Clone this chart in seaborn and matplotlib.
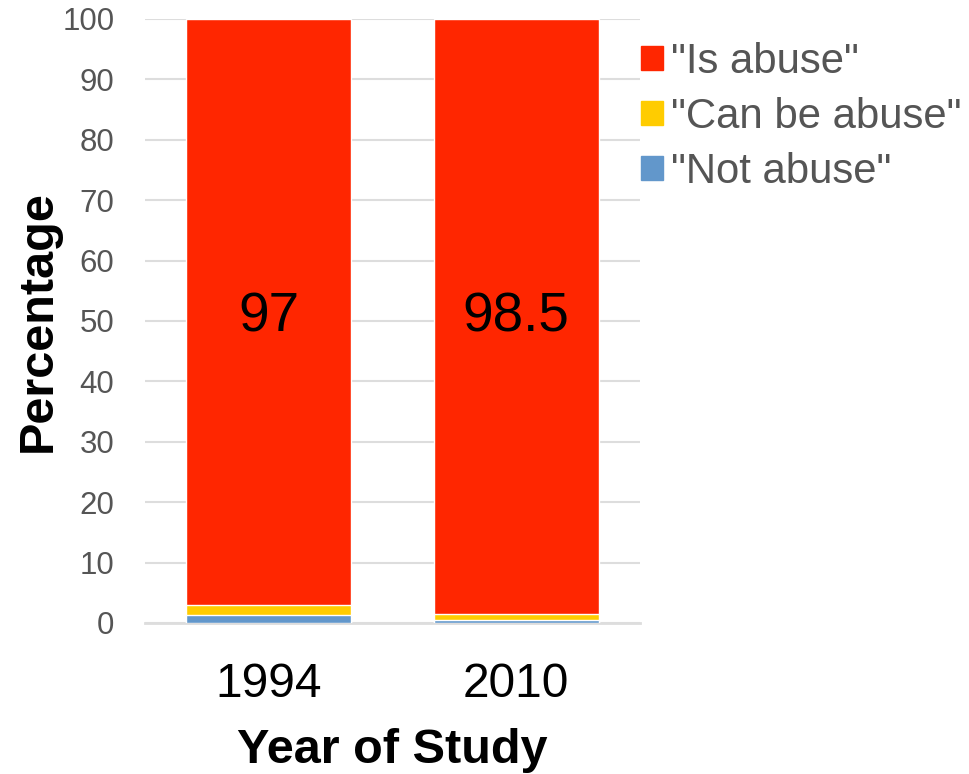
import matplotlib
matplotlib.use("Agg")
import matplotlib.pyplot as plt
import seaborn as sns
import pandas as pd
from matplotlib.patches import Patch

years = ["1994", "2010"]
not_abuse = [1.3, 0.5]
can_be_abuse = [1.7, 1.0]
is_abuse = [97.0, 98.5]
labels = ['"Is abuse"', '"Can be abuse"', '"Not abuse"']
colors = {"is": "#FF2600", "can": "#FFCC00", "not": "#6297CB"}

sns.set_theme(style="white")
plt.rcParams['font.family'] = ['Liberation Sans', 'DejaVu Sans']

df = pd.DataFrame({"year": years, "not": not_abuse, "can": can_be_abuse, "is": is_abuse})
df["c2"] = df["not"] + df["can"]
df["c3"] = df["c2"] + df["is"]

fig = plt.figure(figsize=(9.69, 7.74), dpi=100)
ax = fig.add_axes([145/969, 1 - 623/774, (640-145)/969, (623-19)/774])

w = 0.665
sns.barplot(data=df, x="year", y="c3", color=colors["is"], width=w, ax=ax, saturation=1, zorder=2)
sns.barplot(data=df, x="year", y="c2", color=colors["can"], width=w, ax=ax, saturation=1, zorder=3)
sns.barplot(data=df, x="year", y="not", color=colors["not"], width=w, ax=ax, saturation=1, zorder=4)

for i, v in enumerate(df["is"]):
    ax.text(i, 50.5, f"{v:g}", ha="center", va="center", fontsize=39.5, color="black", zorder=5)

ax.set_ylim(0, 100)
ax.set_xlim(-0.5, 1.5)
ax.set_yticks(range(0, 101, 10))
ax.yaxis.grid(True, color="#DDDDDD", linewidth=1.5, zorder=0)
ax.set_axisbelow(True)
for s in ["top", "right", "left"]:
    ax.spines[s].set_visible(False)
ax.spines["bottom"].set_color("#DDDDDD")
ax.spines["bottom"].set_linewidth(2)
ax.tick_params(axis="y", labelsize=22.5, labelcolor="#555555", length=0, pad=22)
ax.tick_params(axis="x", labelsize=34.5, labelcolor="black", length=0, pad=28)
ax.set_xlabel("Year of Study", fontsize=35, fontweight="bold", labelpad=15, color="black")
ax.set_ylabel("Percentage", fontsize=35, fontweight="bold", labelpad=1, color="black")

handles = [Patch(color=colors["is"]), Patch(color=colors["can"]), Patch(color=colors["not"])]
leg = fig.legend(handles, labels, loc="upper left", bbox_to_anchor=(624/969, 1 - 25/774),
                 frameon=False, fontsize=30.2, handlelength=0.53, handleheight=0.53,
                 handletextpad=0.2, labelspacing=0.36, labelcolor="#555555", borderaxespad=0)

fig.savefig("out.png", dpi=100)
